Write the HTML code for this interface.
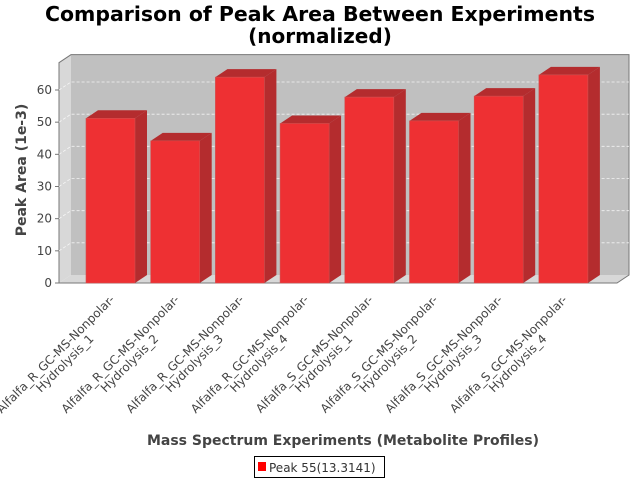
<!DOCTYPE html>
<html><head><meta charset="utf-8"><style>
html,body{margin:0;padding:0;background:#fff;}
svg{display:block;font-family:"DejaVu Sans","Liberation Sans",sans-serif;}
</style></head><body>
<svg id="chart" width="640" height="480" viewBox="0 0 640 480">
<text x="320" y="21" text-anchor="middle" font-size="20" font-weight="bold" fill="#000" textLength="550" lengthAdjust="spacingAndGlyphs">Comparison of Peak Area Between Experiments</text>
<text x="320" y="43" text-anchor="middle" font-size="20" font-weight="bold" fill="#000">(normalized)</text>
<g id="plot"></g>
<text transform="translate(26,170) rotate(-90)" text-anchor="middle" font-size="14" font-weight="bold" fill="#444">Peak Area (1e-3)</text>
<text x="343" y="445" text-anchor="middle" font-size="14" font-weight="bold" fill="#444">Mass Spectrum Experiments (Metabolite Profiles)</text>
<g>
<rect x="254.5" y="456.5" width="130" height="21" fill="#fff" stroke="#000"/>
<rect x="258" y="462" width="8" height="9" fill="#ff0000"/>
<text x="269" y="472" font-size="12" fill="#333">Peak 55(13.3141)</text>
</g>
</svg>
<script>
const categories = ["Alfalfa_R_GC-MS-Nonpolar-|Hydrolysis_1","Alfalfa_R_GC-MS-Nonpolar-|Hydrolysis_2","Alfalfa_R_GC-MS-Nonpolar-|Hydrolysis_3","Alfalfa_R_GC-MS-Nonpolar-|Hydrolysis_4","Alfalfa_S_GC-MS-Nonpolar-|Hydrolysis_1","Alfalfa_S_GC-MS-Nonpolar-|Hydrolysis_2","Alfalfa_S_GC-MS-Nonpolar-|Hydrolysis_3","Alfalfa_S_GC-MS-Nonpolar-|Hydrolysis_4"];
const values = [51.2, 44.2, 64.0, 49.6, 57.8, 50.4, 58.1, 64.7];
const yTicks = [0, 10, 20, 30, 40, 50, 60];
const yMax = 68.5;

const NS = "http://www.w3.org/2000/svg";
const g = document.getElementById("plot");
const X0 = 59, X1 = 617, Y0 = 283, DX = 12, DY = -8;
const pxPer = (283 - 90) / 60;
function yScale(v){ return Y0 - v * pxPer; }
const YT = yScale(yMax);
const catW = 64.7, barW = 49, firstX = 86;
function xScale(i){ return firstX + i * catW; }
function mk(tag, attrs){ const e = document.createElementNS(NS, tag); for (const k in attrs) e.setAttribute(k, attrs[k]); g.appendChild(e); return e; }

let e = mk("polygon", {points:`${X0+DX},${YT+DY} ${X1+DX},${YT+DY} ${X1+DX},${Y0+DY} ${X0+DX},${Y0+DY}`, fill:"#c0c0c0"});


e = mk("polygon", {points:`${X0},${YT} ${X0+DX},${YT+DY} ${X0+DX},${Y0+DY} ${X0},${Y0}`, fill:"#d8d8d8"});


e = mk("polygon", {points:`${X0},${Y0} ${X0+DX},${Y0+DY} ${X1+DX},${Y0+DY} ${X1},${Y0}`, fill:"#d8d8d8"});


e = mk("polyline", {points:`${X0},${Y0} ${X0},${YT} ${X0+DX},${YT+DY} ${X1+DX},${YT+DY} ${X1+DX},${Y0+DY} ${X1},${Y0} ${X0},${Y0}`, fill:"none", stroke:"#777", "stroke-width":"1"});



yTicks.forEach(t => {
  const y = yScale(t);
  if (t > 0) {
    e = mk("polyline", {points:`${X0},${y} ${X0+DX},${y+DY} ${X1+DX},${y+DY}`, fill:"none", stroke:"#fff", "stroke-width":"0.8", "stroke-dasharray":"3,2", opacity:"0.8"});
    
    
  }
  e = mk("line", {x1:X0-4, y1:y, x2:X0, y2:y, stroke:"#777"});
  
  
  e = mk("text", {x:X0-7, y:y+4, "text-anchor":"end", "font-size":"12", fill:"#444"});
  e.textContent = t;
  
  
});

values.forEach((v, i) => {
  const x = xScale(i), y = yScale(v);
  e = mk("polygon", {points:`${x+barW},${y} ${x+barW+DX},${y+DY} ${x+barW+DX},${Y0+DY} ${x+barW},${Y0}`, fill:"#b42c2e"});
  
  
  e = mk("polygon", {points:`${x},${y} ${x+DX},${y+DY} ${x+barW+DX},${y+DY} ${x+barW},${y}`, fill:"#b42c2e"});
  
  
  e = mk("rect", {x:x, y:y, width:barW, height:Y0-y, fill:"#ee3033", stroke:"#d05050", "stroke-width":"0.6"});
  
  

  const parts = categories[i].split("|");
  const cx = x + barW/2 - 52, cy = 357;
  e = mk("text", {transform:`translate(${cx},${cy}) rotate(-45)`, "text-anchor":"middle", "font-size":"12", fill:"#444"});
  
  
  parts.forEach((p, k) => {
    const ts = document.createElementNS(NS, "tspan");
    ts.setAttribute("x", "0");
    ts.setAttribute("y", String(k * 13));
    ts.textContent = p;
    e.appendChild(ts);
  });
});
</script>
</body></html>
